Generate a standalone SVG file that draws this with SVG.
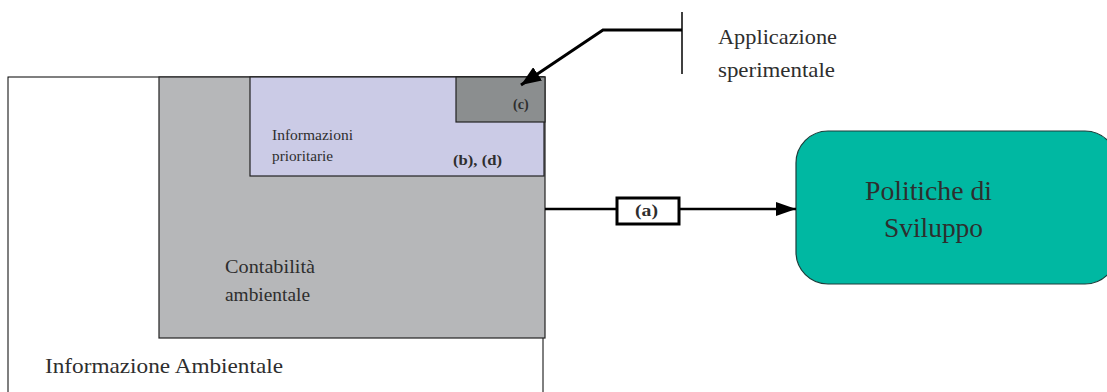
<svg xmlns="http://www.w3.org/2000/svg" width="1107" height="392" viewBox="0 0 1107 392">
<style>
text{font-family:"Liberation Serif","Times New Roman",serif;fill:#2e2e2e}
.b{font-weight:bold}
.line{stroke:#000;stroke-width:3;fill:none}
</style>
<defs>
<marker id="ah2" markerWidth="20" markerHeight="16" refX="20" refY="8" orient="auto" markerUnits="userSpaceOnUse" viewBox="0 0 20 16">
<path d="M0,0 L20,8 L0,16 Z" fill="#000"/>
</marker>
</defs>
<rect width="1107" height="392" fill="#fff"/>
<g id="informazione-ambientale">
<rect x="8" y="77" width="535" height="330" fill="#fff" stroke="#000" stroke-width="1"/>
<text x="45" y="373" font-size="21" textLength="238" lengthAdjust="spacingAndGlyphs">Informazione Ambientale</text>
</g>
<g id="contabilita">
<rect x="159" y="77" width="386" height="261" fill="#b6b7b9" stroke="#222" stroke-width="1.2"/>
<text x="225" y="273" font-size="19" textLength="90" lengthAdjust="spacingAndGlyphs">Contabilità</text>
<text x="225" y="301" font-size="19" textLength="85" lengthAdjust="spacingAndGlyphs">ambientale</text>
</g>
<g id="informazioni-prioritarie">
<rect x="250" y="77" width="294" height="99" fill="#cbcbe6" stroke="#222" stroke-width="1.2"/>
<text x="272" y="140" font-size="14" textLength="81" lengthAdjust="spacingAndGlyphs">Informazioni</text>
<text x="272" y="161" font-size="14" textLength="61" lengthAdjust="spacingAndGlyphs">prioritarie</text>
<text x="453" y="165" font-size="14" class="b" textLength="49" lengthAdjust="spacingAndGlyphs">(b), (d)</text>
</g>
<g id="c">
<rect x="456" y="77" width="89" height="45" fill="#8b8e8f" stroke="#222" stroke-width="1.2"/>
<text x="513" y="109" font-size="14" class="b">(c)</text>
</g>
<g id="applicazione">
<line x1="682" y1="12" x2="682" y2="74" stroke="#000" stroke-width="1.5"/>
<text x="718" y="44" font-size="21" textLength="119" lengthAdjust="spacingAndGlyphs">Applicazione</text>
<text x="718" y="77" font-size="21" textLength="117" lengthAdjust="spacingAndGlyphs">sperimentale</text>
</g>
<g id="politiche">
<rect x="796" y="131" width="321" height="153" rx="32" ry="32" fill="#00b8a2" stroke="#1d3d3a" stroke-width="1.2"/>
<text x="865" y="200" font-size="27" textLength="127" lengthAdjust="spacingAndGlyphs">Politiche di</text>
<text x="884" y="237" font-size="27" textLength="99" lengthAdjust="spacingAndGlyphs">Sviluppo</text>
</g>
<g id="connectors">
<path class="line" d="M682,30 L603,30 L521,85" marker-end="url(#ah2)"/>
<path d="M545,209 L617,209 M679,209 L796,209" stroke="#000" stroke-width="2.5" fill="none"/>
<path d="M776,202 L796,209 L776,216 Z" fill="#000"/>
<g id="label-a">
<rect x="617" y="198" width="62" height="26" fill="#fff" stroke="#000" stroke-width="3"/>
<text x="635" y="216" font-size="16" class="b" textLength="23" lengthAdjust="spacingAndGlyphs">(a)</text>
</g>
</g>
</svg>
